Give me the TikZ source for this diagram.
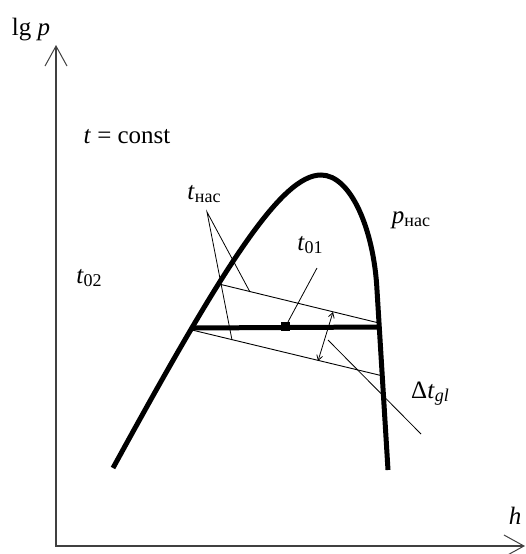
\documentclass[tikz,border=0pt]{standalone}
\usepackage{fontspec}
\setmainfont{Liberation Serif}
\usetikzlibrary{arrows.meta}
\newcommand{\lowsub}[1]{\raisebox{-0.12em}{\fontsize{18}{20}\selectfont #1}}

\begin{document}
\begin{tikzpicture}[x=1pt, y=-1pt, every node/.style={font=\fontsize{25}{30}\selectfont, inner sep=0pt}]
    \tikzset{axisline/.style={line width=1.4pt, draw=black!75, {Straight Barb[length=20pt, width=22pt, line width=1pt]}-{Straight Barb[length=20pt, width=22pt, line width=1pt]}},
        satline/.style={line width=5pt},
        isoline/.style={line width=0.9pt},
        leader/.style={line width=0.8pt},
        glidearrow/.style={line width=0.8pt, {Straight Barb[length=5pt, width=6pt]}-{Straight Barb[length=5pt, width=6pt]}}}
    \useasboundingbox (0,0) rectangle (526,554);
    \coordinate (ytip) at (56,45);
    \coordinate (xtip) at (525,546);
    \coordinate (lo) at (113,468);
    \coordinate (peak) at (321,175);
    \coordinate (rb) at (377,290);
    \coordinate (ro) at (388,470);
    \coordinate (A) at (191,328);
    \coordinate (B) at (380,327);
    \coordinate (C) at (219,284);
    \coordinate (Bu) at (379,323);
    \coordinate (Al) at (192,330);
    \coordinate (D) at (383,376);
    \coordinate (apex) at (207,212);
    \coordinate (n1) at (232,340);
    \coordinate (n2) at (250,292);
    \coordinate (m1) at (317,268);
    \coordinate (da1) at (333,312);
    \coordinate (da2) at (318,361);
    \coordinate (dl1) at (328,340);
    \coordinate (dl2) at (421,434);
    \node (lgp) at (31,30) {lg \textit{p}};
    \node (h) at (515,516) {\textit{h}};
    \node (tconst) at (127,137) {\textit{t} = const};
    \node (tnas) at (204,194) {\textit{t}\lowsub{нас}};
    \node (tnull1) at (310,245) {\textit{t}\lowsub{01}};
    \node (tnull2) at (89,278) {\textit{t}\lowsub{02}};
    \node (pnas) at (411,220) {\textit{p}\lowsub{нас}};
    \node (dtgl) at (430,394) {Δ\textit{t}\lowsub{\textit{gl}}};
    \node[fill, minimum size=9pt] (sq) at (285.5,326.5) {};
    \draw[axisline] (ytip) |- (xtip);
    \draw[satline] (lo) .. controls (223,267) and (281,175) .. (peak) .. controls (351,175) and (373.9,230) .. (rb) -- (ro);
    \draw[satline] (A) -- (B);
    \draw[isoline] (C) -- (Bu);
    \draw[isoline] (Al) -- (D);
    \draw[leader] (n2) -- (apex) -- (n1);
    \draw[leader] (m1) -- (sq);
    \draw[glidearrow] (da1) -- (da2);
    \draw[leader] (dl1) -- (dl2);
\end{tikzpicture}
\end{document}
